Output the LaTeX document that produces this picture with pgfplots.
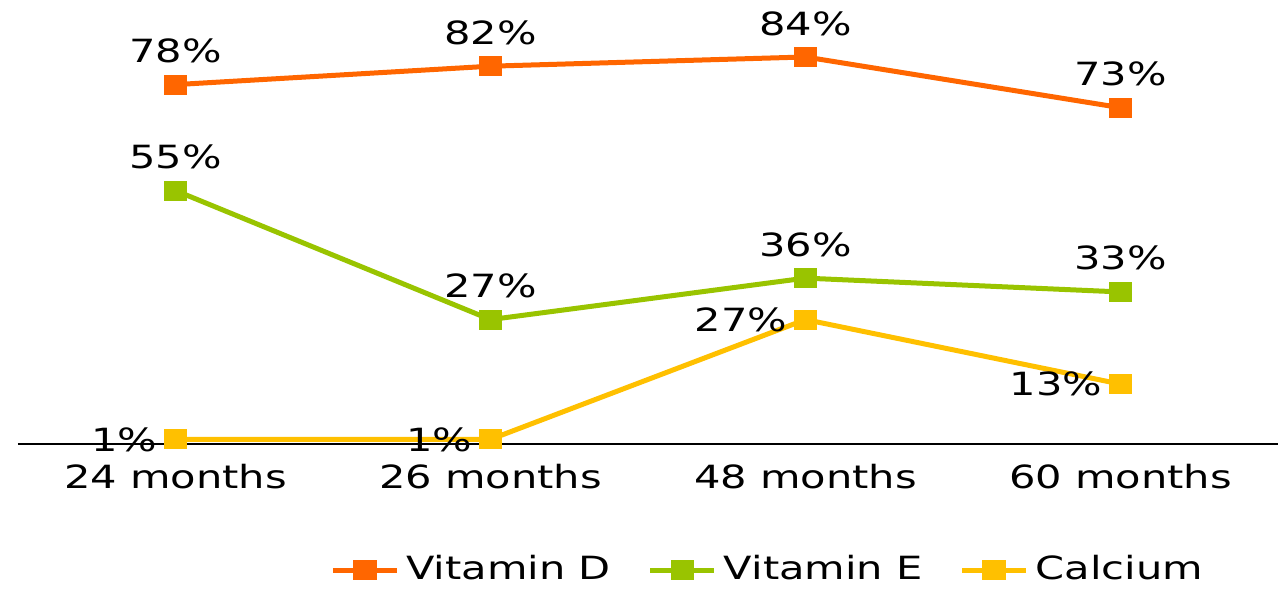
\documentclass[border=0pt]{standalone}
\usepackage{pgfplots}
\pgfplotsset{compat=1.18}
\usepackage{fontspec}
\setmainfont{DejaVu Sans}[FakeStretch=1.3]

\definecolor{vitD}{HTML}{FF6600}
\definecolor{vitE}{HTML}{99C400}
\definecolor{calc}{HTML}{FFC000}

\begin{document}
\begin{tikzpicture}[font=\fontsize{9.1pt}{11pt}\selectfont]
  % the reference is cropped: keep only this window
  \path[use as bounding box, clip] (-0.18cm,-1.46cm) rectangle (12.6cm,4.44cm);
  \begin{axis}[
      scale only axis,
      width=12.6cm, height=4.44cm,
      xmin=-0.5, xmax=3.5,
      ymin=0, ymax=96.37,
      axis x line*=bottom,
      axis y line=none,
      axis line style={black, line width=0.15mm},
      xtick={0,1,2,3},
      xticklabels={24 months,26 months,48 months,60 months},
      major tick length=0pt,
      xticklabel style={yshift=-0.8mm},
      clip=false,
      /pgf/number format/assume math mode=true,
      every axis plot/.append style={line width=0.5mm},
      mark size=0.75mm,
      nodes near coords={\pgfmathprintnumber{\pgfplotspointmeta}\%},
      every node near coord/.append style={text=black, inner sep=0pt},
      legend style={at={(0.597,-0.284)}, anchor=center, draw=none,
        legend columns=-1,
        /tikz/every even column/.append style={column sep=3mm}},
      legend image code/.code={%
        \draw[mark repeat=2, mark phase=2, #1]
          plot coordinates {(0cm,0cm) (0.32cm,0cm) (0.64cm,0cm)};},
    ]

    % Vitamin D
    \addplot[vitD, mark=square*, mark options={xscale=1.25, solid},
      every node near coord/.append style={anchor=south, yshift=1.9mm}]
      coordinates {(0,78) (1,82) (2,84) (3,73)};
    \addlegendentry{Vitamin D}

    % Vitamin E
    \addplot[vitE, mark=square*, mark options={xscale=1.25, solid},
      every node near coord/.append style={anchor=south, yshift=1.9mm}]
      coordinates {(0,55) (1,27) (2,36) (3,33)};
    \addlegendentry{Vitamin E}

    % Calcium
    \addplot[calc, mark=square*, mark options={xscale=1.25, solid},
      every node near coord/.append style={anchor=east, xshift=-1.6mm}]
      coordinates {(0,1) (1,1) (2,27) (3,13)};
    \addlegendentry{Calcium}

  \end{axis}
\end{tikzpicture}
\end{document}
